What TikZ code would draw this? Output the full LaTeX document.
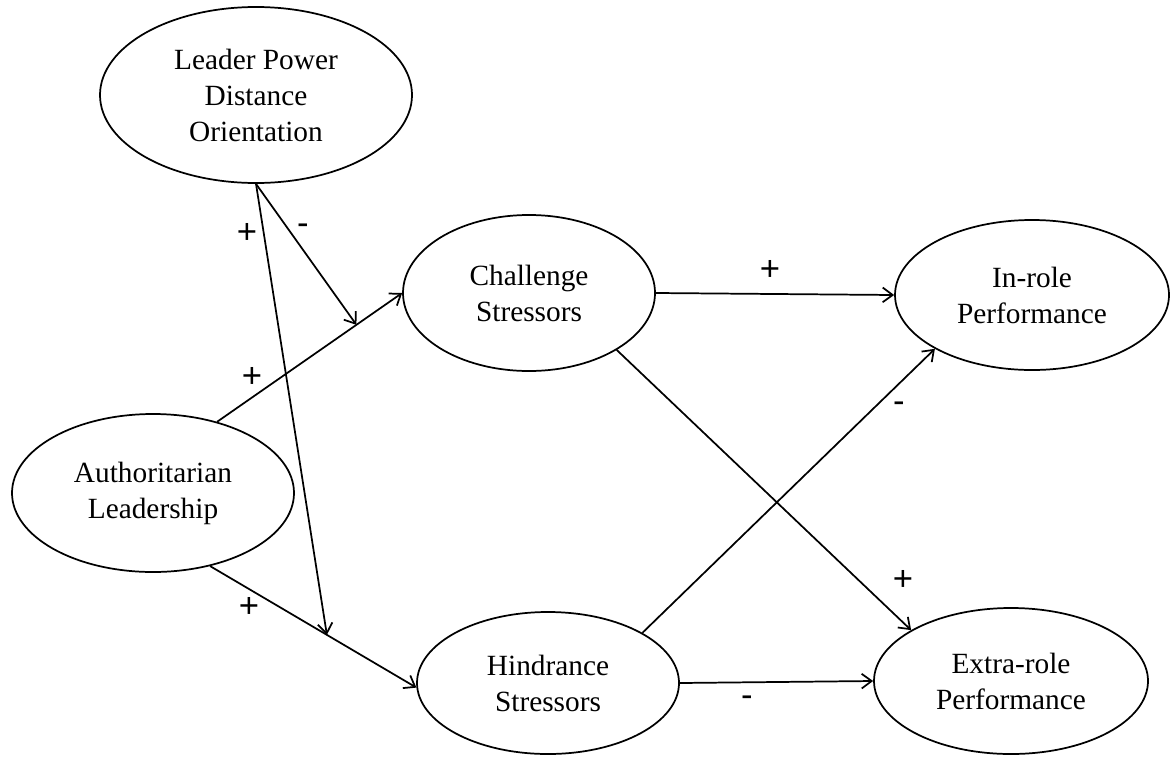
\documentclass[tikz,border=0pt]{standalone}
\usepackage{fontspec}
\setmainfont{Liberation Serif}
\newfontfamily\signfont{Liberation Sans}
\usetikzlibrary{shapes.geometric,arrows.meta,calc}
\begin{document}
\begin{tikzpicture}[x=0.75pt,y=-0.75pt,
  construct/.style={ellipse,draw,line width=1.3pt,inner sep=0pt,align=center,
    font=\fontsize{22}{27}\selectfont},
  link/.style={line width=1.3pt,-{Straight Barb[length=7.5pt,width=11pt]}},
  sgn/.style={inner sep=0pt,font=\signfont\fontsize{26}{30}\selectfont}]
  \useasboundingbox (0,0) rectangle (1173,764);
  \node [construct,minimum width=234pt,minimum height=132pt] (lpdo) at (256,95) {Leader Power\\Distance\\Orientation};
  \node [construct,minimum width=211.5pt,minimum height=118.5pt] (al) at (153,493) {Authoritarian\\Leadership};
  \node [construct,minimum width=189pt,minimum height=117pt] (cs) at (529,293) {Challenge\\Stressors};
  \node [construct,minimum width=196.5pt,minimum height=106.5pt] (hs) at (548,683) {Hindrance\\Stressors};
  \node [construct,minimum width=205.5pt,minimum height=112.5pt] (ip) at (1032,295) {In-role\\Performance};
  \node [construct,minimum width=205.5pt,minimum height=109.5pt] (ep) at (1011,681) {Extra-role\\Performance};
  \draw [link] (al.48) -- (cs.180);
  \coordinate (m1) at ($(al.48)!0.753!(cs.180)$);
  \draw [link] (lpdo.south) -- (m1);
  \draw [link] (al.308) -- (hs.182);
  \coordinate (m2) at ($(al.308)!0.566!(hs.182)$);
  \draw [link] (lpdo.south) -- (m2);
  \draw [link] (cs.east) -- (ip.west);
  \draw [link] (cs.327) -- (ep.153);
  \draw [link] (hs.28) -- (ip.209);
  \draw [link] (hs.east) -- (ep.west);
  \node [sgn] (s1) at (770,270) {+};
  \node [sgn] (s2) at (303,229) {-};
  \node [sgn] (s3) at (247,233) {+};
  \node [sgn] (s4) at (252,377) {+};
  \node [sgn] (s5) at (249,607) {+};
  \node [sgn] (s6) at (899,407) {-};
  \node [sgn] (s7) at (903,580) {+};
  \node [sgn] (s8) at (747,701) {-};
\end{tikzpicture}
\end{document}
